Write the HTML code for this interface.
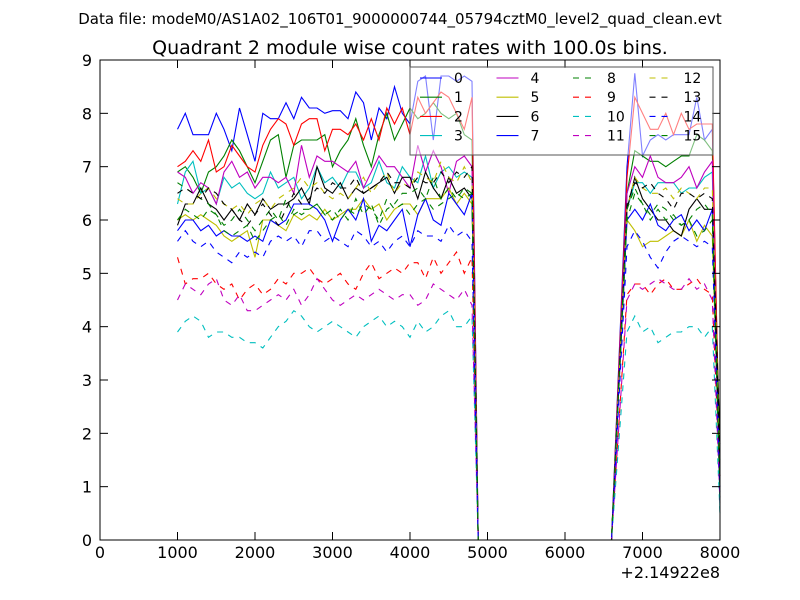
<!DOCTYPE html>
<html><head><meta charset="utf-8"><style>
body{margin:0;background:#fff;}
svg{display:block;font-family:"DejaVu Sans","Liberation Sans",sans-serif;}
</style></head><body>
<svg id="chart" width="800" height="600">
<text x="400" y="24" font-size="15" text-anchor="middle">Data file: modeM0/AS1A02_106T01_9000000744_05794cztM0_level2_quad_clean.evt</text>
<text x="410" y="54" font-size="19" text-anchor="middle">Quadrant 2 module wise count rates with 100.0s bins.</text>
<g id="lines"></g>
<rect x="100" y="60" width="620" height="480" fill="none" stroke="#000"/>
<g id="axes"></g>
<text x="720" y="578" font-size="16" text-anchor="end">+2.14922e8</text>
<g id="legend"></g>
</svg>
<script>
const xTicks=[0,1000,2000,3000,4000,5000,6000,7000,8000];
const yTicks=[0,1,2,3,4,5,6,7,8,9];
const seriesNames=["0","1","2","3","4","5","6","7","8","9","10","11","12","13","14","15"];
const colors=["#0000ff","#008000","#ff0000","#00bfbf","#bf00bf","#bfbf00","#000000","#0000ff","#008000","#ff0000","#00bfbf","#bf00bf","#bfbf00","#000000","#0000ff","#008000"];
const seg1Times=[1000,1100,1200,1300,1400,1500,1600,1700,1800,1900,2000,2100,2200,2300,2400,2500,2600,2700,2800,2900,3000,3100,3200,3300,3400,3500,3600,3700,3800,3900,4000,4100,4200,4300,4400,4500,4600,4700,4800];
const gapTimes=[4880,6600];
const seg2Times=[6800,6900,7000,7100,7200,7300,7400,7500,7600,7700,7800,7900];
const endTime=[8000];
const s0a=[7.7,8.0,7.6,7.6,7.6,8.0,7.7,7.3,8.1,7.6,7.1,8.0,7.9,7.9,8.2,7.9,8.3,8.1,8.1,8.0,8.05,8.05,7.9,8.4,8.2,7.5,8.1,7.9,8.5,8.0,7.8,8.6,8.7,7.5,8.7,8.7,8.6,8.7,8.6];
const s0b=[7.0,8.75,7.2,7.5,7.6,7.5,7.6,7.6,7.6,8.3,7.5,7.7];
const s1a=[6.9,7.0,6.8,6.5,6.9,7.0,7.2,7.5,7.3,7.0,6.7,7.1,7.5,7.6,6.8,7.4,7.5,7.5,7.5,7.6,7.0,7.3,7.5,7.9,7.4,7.0,7.6,8.0,7.5,7.8,8.1,7.9,8.0,8.2,8.0,7.9,8.0,7.6,7.5];
const s1b=[6.5,7.3,7.2,7.1,7.1,7.0,7.1,7.2,7.2,7.6,7.5,7.3];
const s2a=[7.0,7.1,7.3,7.1,7.5,6.9,7.0,7.4,7.2,7.0,6.9,7.4,7.7,7.9,7.8,7.4,7.8,7.9,7.9,7.3,7.7,7.7,7.6,7.8,7.5,7.9,7.5,8.1,7.8,8.1,7.6,8.3,8.0,8.2,8.4,8.3,8.0,7.7,8.3];
const s2b=[6.8,8.3,8.0,7.7,7.7,8.0,7.6,8.0,7.7,7.8,7.8,7.8];
const s3a=[6.3,6.9,7.1,6.5,6.6,6.3,6.8,6.6,6.7,6.5,6.4,6.5,6.9,6.6,6.7,6.8,6.4,6.6,7.0,6.7,6.8,6.6,6.9,6.9,6.6,6.7,7.1,6.7,6.6,7.0,6.8,6.7,7.2,6.6,6.9,7.0,6.8,6.9,6.8];
const s3b=[6.2,6.7,6.7,6.5,6.7,6.7,6.7,6.5,6.6,6.6,6.8,6.9];
const s4a=[6.9,6.8,6.5,6.7,6.6,6.3,6.9,7.1,6.8,6.9,6.6,6.8,6.8,6.7,6.8,6.5,7.4,6.8,7.2,7.1,7.1,7.0,6.9,7.1,6.6,6.9,7.2,7.0,7.0,6.8,6.6,7.4,6.9,7.3,7.0,6.5,7.1,7.2,7.0];
const s4b=[6.5,7.0,6.8,7.2,6.8,6.7,6.7,6.8,7.0,6.6,6.9,7.1];
const s5a=[6.0,6.1,6.0,6.1,6.0,5.9,5.7,5.6,5.7,5.8,5.3,6.0,6.0,5.9,5.8,6.1,6.0,6.1,6.0,6.2,6.0,6.1,6.2,6.2,6.4,6.2,6.3,6.0,6.2,6.3,6.3,6.1,6.4,6.4,6.4,6.6,6.3,6.5,6.3];
const s5b=[6.0,5.8,5.5,5.6,5.6,5.7,5.8,5.7,6.0,5.6,5.9,5.7];
const s6a=[5.9,6.3,6.3,6.6,6.3,6.2,6.0,6.2,6.0,6.3,6.1,6.4,6.2,6.3,6.3,6.4,6.6,6.3,7.0,6.6,6.5,6.7,6.4,6.6,6.5,6.6,6.7,6.8,6.5,6.8,6.8,6.4,6.9,6.6,6.4,6.8,6.5,6.6,6.4];
const s6b=[6.2,6.8,6.4,6.2,6.0,6.0,5.8,5.7,6.2,6.4,6.2,6.2];
const s7a=[5.8,6.0,6.0,5.8,5.9,5.7,5.8,5.7,5.7,5.6,5.7,5.6,6.0,5.9,6.0,6.3,6.3,6.3,6.2,6.0,5.6,6.0,6.2,6.0,6.4,5.6,5.9,5.8,6.0,6.2,5.5,6.1,6.4,6.0,5.9,6.5,6.3,6.1,6.5];
const s7b=[6.0,6.2,6.0,6.3,5.9,5.8,6.0,6.1,5.8,6.0,5.8,6.2];
const s8a=[6.7,6.6,6.5,6.4,6.3,6.1,5.9,6.0,6.2,6.0,5.8,6.0,6.2,6.0,6.4,6.1,6.2,6.2,6.3,6.1,6.0,6.2,6.0,6.4,6.1,6.3,5.9,6.2,6.3,6.5,6.5,6.6,6.4,6.8,6.4,6.6,6.4,6.6,6.5];
const s8b=[6.0,6.5,6.3,6.0,6.2,6.0,6.1,5.9,6.0,5.7,5.8,6.0];
const s9a=[5.3,4.8,4.9,4.9,5.0,4.8,4.7,4.8,4.5,4.7,4.8,4.6,4.7,4.9,4.8,5.0,5.0,5.1,4.9,4.8,4.9,5.0,4.8,4.7,5.0,5.2,4.9,5.0,5.1,5.0,5.2,5.2,4.9,5.3,5.0,5.2,5.4,5.0,5.3];
const s9b=[4.6,4.8,4.8,4.6,4.8,4.9,4.7,4.7,4.8,4.9,4.7,4.6];
const s10a=[3.9,4.1,4.2,4.1,3.8,3.9,3.9,3.8,3.8,3.7,3.7,3.6,3.8,4.0,4.1,4.3,4.2,4.0,3.9,4.0,4.1,4.0,3.9,3.8,4.0,4.1,4.2,4.0,4.1,4.0,3.8,4.1,3.9,4.0,4.2,4.3,4.0,4.0,4.2];
const s10b=[3.9,4.2,3.9,4.0,3.7,3.8,3.9,3.9,4.0,4.0,3.8,4.0];
const s11a=[4.5,4.8,4.7,4.6,4.8,4.9,4.5,4.4,4.6,4.3,4.3,4.4,4.5,4.6,4.5,4.7,4.4,4.6,4.9,4.7,4.5,4.4,4.5,4.6,4.5,4.6,4.7,4.6,4.5,4.6,4.6,4.4,4.5,4.8,4.7,4.6,4.5,4.7,4.4];
const s11b=[4.5,4.8,4.7,4.8,4.9,4.8,4.7,4.7,4.9,4.7,4.8,4.5];
const s12a=[6.4,6.3,6.3,6.5,6.6,6.4,6.3,6.2,6.3,6.1,6.3,6.4,6.2,6.4,6.5,6.6,6.8,6.6,6.7,6.5,6.4,6.5,6.4,6.6,6.8,6.5,6.7,6.9,6.5,6.7,6.6,6.9,6.8,6.7,7.1,6.8,6.7,7.0,6.7];
const s12b=[6.2,6.8,6.6,6.5,6.5,6.6,6.4,6.6,6.5,6.4,6.6,6.6];
const s13a=[6.5,6.6,6.5,6.4,6.6,6.5,6.3,6.2,6.0,5.9,6.1,6.3,6.1,5.9,6.2,6.5,6.3,6.4,6.6,6.5,6.7,6.6,6.6,6.8,6.5,6.6,6.7,6.9,6.7,6.7,6.6,6.8,6.7,6.7,6.9,6.7,6.9,6.8,7.0];
const s13b=[6.3,6.7,6.6,6.7,6.5,6.4,6.2,6.5,6.5,6.4,6.5,6.4];
const s14a=[5.6,5.8,5.6,5.5,5.6,5.4,5.3,5.2,5.4,5.3,5.4,5.3,5.6,5.7,5.6,5.7,5.5,5.8,5.8,5.6,5.7,5.6,5.5,5.8,5.7,5.5,5.6,5.4,5.6,5.7,5.5,5.8,5.7,5.7,5.6,5.9,5.7,5.8,5.6];
const s14b=[5.5,5.8,5.6,5.3,5.1,5.4,5.6,5.7,5.6,5.5,5.6,5.5];
const s15a=[6.0,6.2,6.1,6.0,6.2,6.1,5.8,5.7,5.8,5.9,5.6,5.8,6.0,6.1,5.9,6.2,6.1,6.2,6.3,6.1,6.2,6.0,6.2,6.1,6.3,6.2,6.0,6.4,6.2,6.3,6.1,6.3,6.4,6.2,6.3,6.4,6.5,6.4,6.5];
const s15b=[6.2,6.6,6.3,6.1,6.3,6.2,6.0,5.9,6.0,6.2,6.3,6.1];
const endValues=[1.0,1.5,1.2,0.5,0.8,1.0,1.8,1.0,0.8,1.0,0.5,0.7,1.2,1.2,0.9,1.0];
const gapValues=[0,0];

const segA=[s0a,s1a,s2a,s3a,s4a,s5a,s6a,s7a,s8a,s9a,s10a,s11a,s12a,s13a,s14a,s15a];
const segB=[s0b,s1b,s2b,s3b,s4b,s5b,s6b,s7b,s8b,s9b,s10b,s11b,s12b,s13b,s14b,s15b];
const NS="http://www.w3.org/2000/svg";
const X0=100,X1=720,Y0=540,Y1=60;
function xs(v){return X0+(v-0)/(8000-0)*(X1-X0);}
function ys(v){return Y0-(v-0)/(9-0)*(Y0-Y1);}
const times=seg1Times.concat(gapTimes,seg2Times,endTime);
const gLines=document.getElementById('lines');
for(let i=0;i<16;i++){
  const vals=segA[i].concat(gapValues,segB[i],[endValues[i]]);
  const p=document.createElementNS(NS,'polyline');
  p.setAttribute('points',vals.map((v,k)=>xs(times[k]).toFixed(1)+','+ys(v).toFixed(1)).join(' '));
  p.setAttribute('fill','none');p.setAttribute('stroke',colors[i]);p.setAttribute('stroke-width','1.1');
  if(i>=8)p.setAttribute('stroke-dasharray','6,6');
  
  
  gLines.appendChild(p);
}
const gA=document.getElementById('axes');
xTicks.forEach(t=>{
  const x=xs(t);
  gA.insertAdjacentHTML('beforeend',`<line x1="${x}" y1="540" x2="${x}" y2="532" stroke="#000"/><line x1="${x}" y1="60" x2="${x}" y2="68" stroke="#000"/>`);
  const tx=document.createElementNS(NS,'text');
  tx.setAttribute('x',x);tx.setAttribute('y',558);tx.setAttribute('font-size','16');tx.setAttribute('text-anchor','middle');
  tx.textContent=t;
  
  
  gA.appendChild(tx);
});
yTicks.forEach(t=>{
  const y=ys(t);
  gA.insertAdjacentHTML('beforeend',`<line x1="100" y1="${y}" x2="108" y2="${y}" stroke="#000"/><line x1="712" y1="${y}" x2="720" y2="${y}" stroke="#000"/>`);
  const tx=document.createElementNS(NS,'text');
  tx.setAttribute('x',92);tx.setAttribute('y',y+6);tx.setAttribute('font-size','16');tx.setAttribute('text-anchor','end');
  tx.textContent=t;
  
  
  gA.appendChild(tx);
});
const gL=document.getElementById('legend');
gL.insertAdjacentHTML('beforeend','<rect x="410" y="67" width="303" height="88" fill="#fff" fill-opacity="0.5" stroke="#555" stroke-width="1"/>');
for(let i=0;i<16;i++){
  const col=Math.floor(i/4),row=i%4;
  const lx=420+col*76.5,ly=78+row*19.2;
  const g=document.createElementNS(NS,'g');
  
  
  g.innerHTML=`<line x1="${lx}" y1="${ly}" x2="${lx+22}" y2="${ly}" stroke="${colors[i]}" stroke-width="1.1" ${i>=8?'stroke-dasharray="6,6"':''}/><text x="${lx+34}" y="${ly+5}" font-size="14">${seriesNames[i]}</text>`;
  gL.appendChild(g);
}
</script>
</body></html>
